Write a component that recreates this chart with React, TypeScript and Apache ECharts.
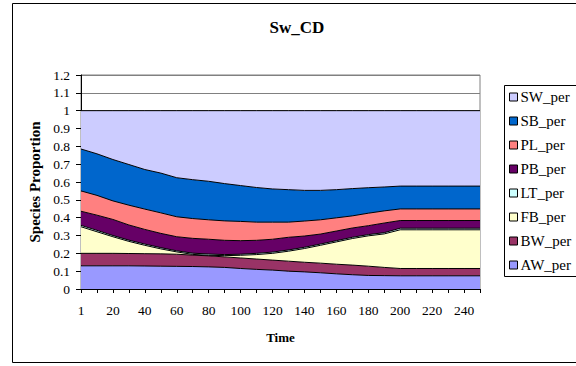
import React, { useEffect, useRef } from "react";
import * as echarts from "echarts";

const categories = ["1","10","20","30","40","50","60","70","80","90","100","110","120","130","140","150","160","170","180","190","200","210","220","230","240","250"];
const AW_per = [0.130,0.130,0.130,0.130,0.129,0.128,0.127,0.126,0.124,0.121,0.115,0.110,0.106,0.100,0.096,0.091,0.085,0.080,0.076,0.075,0.074,0.074,0.074,0.074,0.074,0.074];
const BW_per = [0.070,0.070,0.070,0.069,0.069,0.069,0.068,0.064,0.062,0.059,0.059,0.058,0.056,0.056,0.054,0.054,0.054,0.054,0.052,0.046,0.041,0.041,0.041,0.041,0.041,0.041];
const FB_per = [0.149,0.121,0.093,0.068,0.047,0.028,0.013,0.004,0.003,0.007,0.015,0.025,0.038,0.056,0.077,0.100,0.125,0.149,0.170,0.188,0.217,0.217,0.217,0.217,0.217,0.217];
const LT_per = [0.008,0.008,0.007,0.007,0.007,0.007,0.006,0.007,0.007,0.006,0.006,0.007,0.007,0.007,0.007,0.007,0.007,0.007,0.007,0.007,0.009,0.009,0.009,0.009,0.009,0.009];
const PB_per = [0.079,0.085,0.090,0.085,0.082,0.080,0.079,0.083,0.083,0.080,0.076,0.073,0.072,0.071,0.063,0.056,0.054,0.052,0.050,0.054,0.043,0.043,0.043,0.043,0.043,0.043];
const PL_per = [0.114,0.111,0.104,0.111,0.114,0.115,0.112,0.111,0.109,0.109,0.108,0.102,0.096,0.085,0.084,0.080,0.074,0.068,0.070,0.068,0.065,0.065,0.065,0.065,0.065,0.065];
const SB_per = [0.235,0.233,0.232,0.228,0.222,0.223,0.219,0.218,0.216,0.209,0.201,0.194,0.186,0.182,0.172,0.165,0.158,0.153,0.143,0.134,0.128,0.128,0.128,0.128,0.128,0.128];
const SW_per = [0.215,0.242,0.274,0.302,0.330,0.350,0.376,0.387,0.396,0.409,0.420,0.431,0.439,0.443,0.447,0.447,0.443,0.437,0.432,0.428,0.423,0.423,0.423,0.423,0.423,0.423];

const seriesDefs = [
  { name: "AW_per", data: AW_per, color: "#9999FF" },
  { name: "BW_per", data: BW_per, color: "#993366" },
  { name: "FB_per", data: FB_per, color: "#FFFFCC" },
  { name: "LT_per", data: LT_per, color: "#CCFFFF" },
  { name: "PB_per", data: PB_per, color: "#660066" },
  { name: "PL_per", data: PL_per, color: "#FF8080" },
  { name: "SB_per", data: SB_per, color: "#0066CC" },
  { name: "SW_per", data: SW_per, color: "#CCCCFF" },
];

const FONT = "'Liberation Serif', 'Times New Roman', serif";

export default function App() {
  const ref = useRef<HTMLDivElement>(null);
  useEffect(() => {
    if (!ref.current) return;
    const chart = echarts.init(ref.current, undefined, { renderer: "svg" });
    chart.setOption({
      animation: false,
      backgroundColor: "#ffffff",
      title: {
        text: "Sw_CD",
        left: 297,
        textAlign: "center",
        top: 19,
        padding: 0,
        textStyle: { fontFamily: FONT, fontSize: 17, fontWeight: "bold", color: "#000" },
      },
      grid: {
        left: 81,
        top: 75,
        right: 96,
        bottom: 77,
        show: true,
        borderColor: "#808080",
        borderWidth: 1,
        backgroundColor: "transparent",
      },
      legend: {
        orient: "vertical",
        left: 509,
        top: 89,
        icon: "rect",
        itemWidth: 8,
        itemHeight: 8,
        itemGap: 8,
        padding: 0,
        data: [...seriesDefs].reverse().map((s) => s.name),
        itemStyle: { borderColor: "#000", borderWidth: 1 },
        textStyle: { fontFamily: FONT, fontSize: 15, color: "#000", lineHeight: 16, padding: [0, 0, 0, -2] },
      },
      xAxis: {
        type: "category",
        data: categories,
        boundaryGap: false,
        name: "Time",
        nameLocation: "middle",
        nameGap: 42,
        nameTextStyle: { fontFamily: FONT, fontSize: 13, fontWeight: "bold", color: "#000" },
        axisLine: { lineStyle: { color: "#000", width: 1 } },
        axisTick: { show: true, interval: 0, length: 4, lineStyle: { color: "#000" } },
        axisLabel: { interval: 1, margin: 14, fontFamily: FONT, fontSize: 13.5, color: "#000" },
        splitLine: { show: false },
      },
      yAxis: {
        type: "value",
        min: 0,
        max: 1.2,
        interval: 0.1,
        name: "Species Proportion",
        nameLocation: "middle",
        nameRotate: 90,
        nameGap: 39,
        nameTextStyle: { fontFamily: FONT, fontSize: 15, fontWeight: "bold", color: "#000" },
        axisLine: { show: true, lineStyle: { color: "#000", width: 1 } },
        axisTick: { show: true, length: 5, lineStyle: { color: "#000" } },
        axisLabel: {
          margin: 11,
          fontFamily: FONT,
          fontSize: 13.5,
          color: "#000",
          formatter: (v: number) => String(Math.round(v * 10) / 10),
        },
        splitLine: { show: true, lineStyle: { color: "#808080", width: 1 } },
      },
      graphic: [
        {
          type: "rect",
          shape: { x: 12.5, y: 3.5, width: 600, height: 359 },
          style: { fill: "none", stroke: "#000", lineWidth: 1 },
          silent: true,
          z: 100,
        },
        {
          type: "rect",
          shape: { x: 504.5, y: 85.5, width: 100, height: 191 },
          style: { fill: "none", stroke: "#000", lineWidth: 1 },
          silent: true,
          z: 100,
        },
      ],
      series: seriesDefs.map((s) => ({
        name: s.name,
        type: "line",
        stack: "total",
        data: s.data,
        symbol: "none",
        showSymbol: false,
        smooth: false,
        itemStyle: { color: s.color },
        lineStyle: { color: "#000", width: 1 },
        areaStyle: { color: s.color, opacity: 1 },
      })),
    });
    return () => chart.dispose();
  }, []);
  return (
    <div
      ref={ref}
      style={{ position: "fixed", left: 0, top: 0, width: 576, height: 366 }}
    />
  );
}
